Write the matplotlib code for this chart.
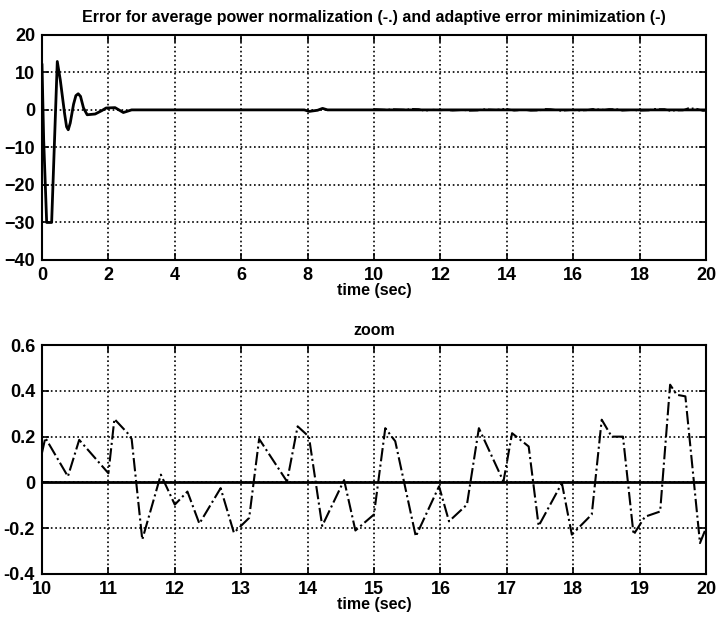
import matplotlib
matplotlib.use("Agg")
import matplotlib.pyplot as plt

# Transient of the error (top panel)
t_full = [0.0, 0.05, 0.14, 0.29, 0.46, 0.55, 0.68, 0.74, 0.79, 0.85, 0.95, 1.02, 1.09, 1.16,
          1.25, 1.36, 1.6, 1.8, 1.93, 2.2, 2.45, 2.7, 3.2, 7.9, 8.05, 8.3, 8.45, 8.6, 20.0]
e_full = [12.0, -8.0, -30.0, -30.0, 12.9, 8.0, -1.0, -4.5, -5.3, -3.5, 1.5, 3.8, 4.3, 3.6,
          0.5, -1.3, -1.1, -0.2, 0.5, 0.6, -0.7, 0.0, 0.0, 0.0, -0.4, -0.1, 0.4, 0.0, 0.0]

# Average power normalization error in the zoomed window (bottom panel)
t_zoom = [10.0, 10.05, 10.39, 10.56, 11.0, 11.09, 11.29, 11.35, 11.51, 11.79, 12.0, 12.19,
          12.37, 12.69, 12.89, 13.12, 13.27, 13.69, 13.85, 14.02, 14.22, 14.55, 14.72, 15.0,
          15.17, 15.32, 15.63, 15.98, 16.13, 16.4, 16.58, 16.95, 17.08, 17.33, 17.48, 17.83,
          17.98, 18.28, 18.43, 18.58, 18.75, 18.91, 19.08, 19.31, 19.46, 19.56, 19.69, 19.91, 20.0]
e_zoom = [0.13, 0.195, 0.026, 0.186, 0.04, 0.277, 0.215, 0.19, -0.25, 0.034, -0.097, -0.04,
          -0.18, -0.025, -0.22, -0.155, 0.19, 0.004, 0.245, 0.2, -0.19, 0.01, -0.21, -0.14,
          0.237, 0.18, -0.236, -0.017, -0.17, -0.097, 0.237, 0.004, 0.215, 0.157, -0.19, -0.003,
          -0.228, -0.14, 0.274, 0.2, 0.2, -0.228, -0.15, -0.127, 0.427, 0.383, 0.376, -0.265, -0.2]

x_top_ticks = list(range(0, 21, 2))
y_top_ticks = list(range(-40, 21, 10))
x_bot_ticks = list(range(10, 21))
y_bot_ticks = [-0.4, -0.2, 0, 0.2, 0.4, 0.6]

plt.rcParams['font.family'] = ['Liberation Sans', 'DejaVu Sans']

fig = plt.figure(figsize=(7.17, 6.22), dpi=100)
ax1 = fig.add_axes([0.0586, 0.582, 0.926, 0.362])
ax2 = fig.add_axes([0.0586, 0.0772, 0.926, 0.368])

# top panel
ax1.plot(t_zoom, e_zoom, color='black', linestyle='-.', linewidth=1.3)
ax1.plot(t_full, e_full, color='black', linestyle='-', linewidth=2.0)
ax1.set_xlim(0, 20)
ax1.set_ylim(-40, 20)
ax1.set_xticks(x_top_ticks)
ax1.set_yticks(y_top_ticks)
ax1.set_xlabel('time (sec)', fontsize=11.5, fontweight='bold', labelpad=-1)
ax1.set_title('Error for average power normalization (-.) and adaptive error minimization (-)',
              fontsize=11.5, fontweight='bold', pad=9)

# bottom panel
ax2.plot(t_zoom, e_zoom, color='black', linestyle='-.', linewidth=1.5)
ax2.plot([10, 20], [0, 0], color='black', linestyle='-', linewidth=2.0)
ax2.set_xlim(10, 20)
ax2.set_ylim(-0.4, 0.6)
ax2.set_xticks(x_bot_ticks)
ax2.set_yticks(y_bot_ticks)
ax2.set_yticklabels(['-0.4', '-0.2', '0', '0.2', '0.4', '0.6'])
ax2.set_xlabel('time (sec)', fontsize=11.5, fontweight='bold', labelpad=-1)
ax2.set_title('zoom', fontsize=11.5, fontweight='bold', pad=7)

for ax in (ax1, ax2):
    ax.grid(True, color='black', linestyle=':', linewidth=1.2)
    ax.tick_params(direction='in', top=True, right=True, labelsize=13, length=5, width=1.2, pad=5)
    for lbl in ax.get_xticklabels() + ax.get_yticklabels():
        lbl.set_fontweight('bold')
    for sp in ax.spines.values():
        sp.set_linewidth(1.5)

fig.savefig('out.png', dpi=100)
